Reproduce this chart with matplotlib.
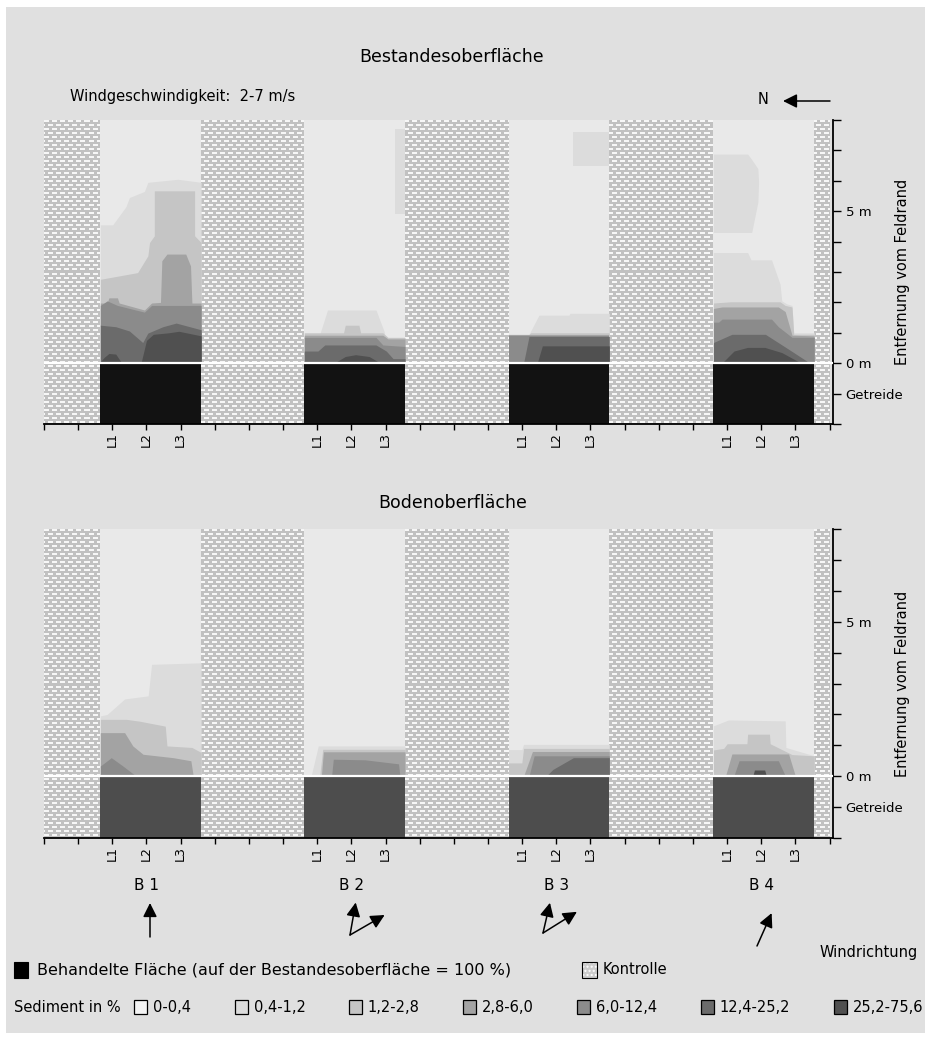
import numpy as np
import matplotlib
matplotlib.use('Agg')
import matplotlib.pyplot as plt
from matplotlib.patches import Rectangle, FancyArrowPatch

plt.rcParams['font.family'] = ['DejaVu Sans']

# sediment classes (legend labels) and their grey shades
levels = ['0-0,4', '0,4-1,2', '1,2-2,8', '2,8-6,0', '6,0-12,4', '12,4-25,2', '25,2-75,6']
level_colors = ['#e9e9e9', '#dcdcdc', '#c5c5c5', '#a3a3a3', '#8b8b8b', '#6b6b6b', '#505050']

block_names = ['B 1', 'B 2', 'B 3', 'B 4']
block_left = [1.65, 7.62, 13.6, 19.6]
block_width = 2.95
x_end = 23.1
ctrl_end = 23.0
l_ticks = [[2, 3, 4], [8, 9, 10], [14, 15, 16], [20, 21, 22]]

# sediment bands per block: (class index, x in block, upper edge in m[, lower edge in m])
top_b1 = [
    (1, [0, 0.36, 0.75, 0.85, 1.29, 1.39, 2.27, 2.95], [4.55, 4.55, 5.15, 5.45, 5.65, 5.95, 6.05, 5.95]),
    (2, [0, 1.09, 1.39, 1.44, 1.58, 1.58, 2.76, 2.76, 2.95], [2.76, 2.98, 3.53, 3.97, 4.19, 5.67, 5.67, 4.19, 3.97]),
    (3, [0, 0.2, 0.25, 0.5, 0.55, 1.29, 1.5, 1.76, 1.8, 1.95, 2.5, 2.64, 2.68, 2.95],
        [1.98, 1.98, 2.15, 2.15, 1.98, 1.75, 1.98, 2.0, 3.37, 3.59, 3.59, 3.2, 1.98, 1.98]),
    (4, [0, 0.2, 0.5, 1.29, 1.5, 2.95], [1.9, 2.05, 1.9, 1.68, 1.9, 1.9]),
    (5, [0, 0.45, 0.85, 1.24, 1.39, 1.83, 2.22, 2.95], [1.25, 1.2, 1.06, 0.68, 0.99, 1.2, 1.32, 1.1]),
    (6, [0, 0.12, 0.25, 0.45, 0.6, 1.2, 1.35, 1.55, 2.0, 2.3, 2.95],
        [0.05, 0.2, 0.32, 0.3, 0.05, 0.05, 0.75, 0.95, 1.0, 1.05, 0.9]),
]
top_b2 = [
    (1, [0.47, 0.68, 2.1, 2.35], [1.01, 1.75, 1.75, 1.01]),
    (1, [2.67, 2.95], [7.7, 7.7], [4.9, 4.9]),
    (2, [0, 1.15, 1.2, 1.6, 1.65, 2.3, 2.45, 2.95], [1.0, 1.0, 1.25, 1.25, 1.0, 1.0, 0.85, 0.85]),
    (3, [0, 2.3, 2.45, 2.95], [0.92, 0.92, 0.8, 0.8]),
    (4, [0, 2.1, 2.3, 2.95], [0.85, 0.85, 0.6, 0.55]),
    (5, [0, 0.4, 0.6, 2.1, 2.4, 2.6, 2.95], [0.4, 0.4, 0.6, 0.6, 0.4, 0.15, 0.15]),
    (6, [0.9, 1.2, 1.5, 1.9, 2.2], [0.02, 0.22, 0.28, 0.22, 0.02]),
]
top_b3 = [
    (1, [0.6, 0.89, 1.77, 1.8, 2.95], [0.95, 1.58, 1.58, 1.64, 1.64]),
    (1, [1.9, 2.95], [7.6, 7.6], [6.5, 6.5]),
    (2, [0, 0.6, 0.65, 2.95], [0.95, 0.95, 1.0, 1.0]),
    (3, [0, 2.95], [0.93, 0.93]),
    (4, [0, 2.95], [0.88, 0.88]),
    (5, [0.44, 0.6, 2.95], [0.0, 0.88, 0.88]),
    (6, [0.84, 0.99, 2.95], [0.0, 0.57, 0.57]),
]
top_b4 = [
    (1, [0, 1.0, 1.12, 1.3, 1.32], [6.88, 6.88, 6.7, 6.4, 6.0], [4.3, 4.3, 4.3, 5.3, 5.9]),
    (1, [0, 1.0, 1.1, 1.7, 1.95, 2.0, 2.15, 2.3, 2.35, 2.95], [3.64, 3.64, 3.4, 3.4, 2.6, 2.05, 1.95, 1.9, 1.0, 1.0]),
    (2, [0, 0.5, 1.95, 2.1, 2.3, 2.35, 2.95], [1.98, 2.02, 2.02, 1.9, 1.85, 0.95, 0.95]),
    (3, [0, 0.25, 1.9, 2.1, 2.3, 2.95], [1.8, 1.85, 1.85, 1.7, 0.92, 0.9]),
    (4, [0, 0.15, 0.25, 1.7, 1.9, 2.3, 2.95], [1.35, 1.35, 1.45, 1.45, 1.2, 0.85, 0.85]),
    (5, [0, 0.54, 1.52, 2.2, 2.8], [0.68, 0.95, 0.95, 0.46, 0.02]),
    (6, [0.29, 0.6, 1.0, 1.5, 2.0, 2.49], [0.05, 0.4, 0.52, 0.52, 0.35, 0.05]),
]
bot_b1 = [
    (1, [0, 0.2, 0.71, 1.4, 1.5, 2.95], [1.95, 2.0, 2.5, 2.6, 3.62, 3.67]),
    (2, [0, 0.76, 1.15, 1.9, 1.95, 2.68, 2.95], [1.84, 1.84, 1.78, 1.62, 0.98, 0.93, 0.77]),
    (3, [0, 0.71, 0.95, 1.25, 2.13, 2.65, 2.72], [1.41, 1.41, 0.98, 0.71, 0.6, 0.5, 0.0]),
    (4, [0, 0.32, 0.66, 1.05], [0.33, 0.6, 0.33, 0.0]),
]
bot_b2 = [
    (1, [0.2, 0.41, 2.95], [0.0, 0.98, 0.98]),
    (2, [0.45, 0.54, 2.95], [0.0, 0.87, 0.87]),
    (3, [0.5, 0.56, 2.95], [0.0, 0.79, 0.79]),
    (4, [0.8, 0.85, 1.78, 2.76, 2.8], [0.0, 0.55, 0.53, 0.4, 0.0]),
]
bot_b3 = [
    (1, [0, 0.39, 0.44, 2.95], [0.86, 0.86, 1.03, 1.03]),
    (2, [0, 0.39, 0.44, 2.95], [0.43, 0.43, 0.9, 0.9]),
    (3, [0.44, 0.7, 2.95], [0.0, 0.8, 0.8]),
    (4, [0.6, 0.75, 2.95], [0.0, 0.66, 0.66]),
    (5, [1.1, 1.3, 1.9, 2.95], [0.0, 0.22, 0.6, 0.6]),
]
bot_b4 = [
    (1, [0, 0.44, 2.1, 2.12, 2.95], [1.63, 1.82, 1.79, 0.93, 0.66]),
    (2, [0, 0.3, 0.4, 0.98, 1.0, 1.64, 1.66, 2.3, 2.95], [0.85, 0.9, 1.05, 1.05, 1.36, 1.36, 1.05, 0.7, 0.66]),
    (3, [0.35, 0.54, 2.2, 2.4], [0.0, 0.72, 0.72, 0.0]),
    (4, [0.6, 0.75, 1.9, 2.1], [0.02, 0.5, 0.5, 0.02]),
    (6, [1.15, 1.2, 1.5, 1.55], [0.0, 0.2, 0.2, 0.0]),
]

# wind directions below each block (degrees clockwise from north, arrow length px)
wind_angles = [[0], [10, 60], [13, 58], [24]]
wind_lengths = [[34], [33, 40], [31, 40], [36]]

W, H = 931, 1039
fx = lambda px: px / W
fy = lambda py: 1 - py / H

fig = plt.figure(figsize=(W / 100, H / 100), dpi=100)
fig.patch.set_facecolor('white')
fig.add_artist(Rectangle((fx(6), fy(1033)), 919 / W, 1026 / H, transform=fig.transFigure,
                         fc='#e0e0e0', ec='none', zorder=-10))


def texture(ny, nx):
    rows, cols = np.mgrid[0:ny, 0:nx]
    img = np.full((ny, nx, 3), 0.76)
    off = np.where((rows // 4) % 2 == 0, 0, 4)
    dash = (rows % 4 >= 1) & (rows % 4 <= 2) & (((cols + off) % 8) < 5)
    img[dash] = 0.97
    return img


def draw_panel(ax, blocks, treated_color):
    bb = ax.get_window_extent()
    tex = texture(int(round(bb.height)), int(round(bb.width)))
    edges = [0]
    for b in block_left:
        edges += [b, b + block_width]
    edges.append(ctrl_end)
    for a, b in zip(edges[0::2], edges[1::2]):
        im = ax.imshow(tex, extent=(0, x_end, -2, 8), aspect='auto',
                       interpolation='nearest', zorder=1)
        r = Rectangle((a, -2), b - a, 10, fc='none', ec='none')
        ax.add_patch(r)
        im.set_clip_path(r)
    for left, bands in zip(block_left, blocks):
        ax.add_patch(Rectangle((left, 0), block_width, 8, fc=level_colors[0], ec='none', zorder=2))
        ax.add_patch(Rectangle((left, -2), block_width, 2, fc=treated_color, ec='none', zorder=2))
        for band in bands:
            lvl, xs, up = band[0], band[1], band[2]
            lo = band[3] if len(band) > 3 else 0
            ax.fill_between(left + np.array(xs), lo, up, color=level_colors[lvl],
                            lw=0, zorder=3)
    ax.axhline(0, color='white', lw=1.6, zorder=5)
    ax.set_xlim(0, x_end)
    ax.set_ylim(-2, 8)
    ax.set_facecolor('#e0e0e0')
    for s in ['left', 'top']:
        ax.spines[s].set_visible(False)
    for s in ['bottom', 'right']:
        ax.spines[s].set_linewidth(1.3)
    ax.set_xticks(range(24))
    labels = [''] * 24
    for group in l_ticks:
        for i, t in enumerate(group):
            labels[t] = 'L%d' % (i + 1)
    ax.set_xticklabels(labels, rotation=90, fontsize=9)
    ax.yaxis.tick_right()
    ax.set_yticks(range(-2, 9))
    ylab = {5: '5 m', 0: '0 m', -1: 'Getreide'}
    ax.set_yticklabels([ylab.get(v, '') for v in range(-2, 9)], fontsize=9.5)
    ax.tick_params(axis='x', length=4, width=1, pad=2)
    ax.tick_params(axis='y', length=6, width=1, pad=3)
    ax.text((903 - 44) / 789, 0.5, 'Entfernung vom Feldrand', rotation=90,
            ha='center', va='center', fontsize=10.5, transform=ax.transAxes)


ax1 = fig.add_axes([fx(44), fy(424), 789 / W, 304 / H])
ax2 = fig.add_axes([fx(44), fy(838), 789 / W, 309 / H])
draw_panel(ax1, [top_b1, top_b2, top_b3, top_b4], '#121212')
draw_panel(ax2, [bot_b1, bot_b2, bot_b3, bot_b4], '#4d4d4d')

fig.text(fx(452), fy(57), 'Bestandesoberfläche', ha='center', va='center', fontsize=12.5)
fig.text(fx(453), fy(503), 'Bodenoberfläche', ha='center', va='center', fontsize=12.5)
fig.text(fx(70), fy(97), 'Windgeschwindigkeit:  2-7 m/s', ha='left', va='center', fontsize=10.5)
fig.text(fx(763), fy(100), 'N', ha='center', va='center', fontsize=10.5)


def arrow(x0, y0, x1, y1):
    fig.add_artist(FancyArrowPatch((fx(x0), fy(y0)), (fx(x1), fy(y1)), transform=fig.transFigure,
                                   arrowstyle='-|>,head_length=0.6,head_width=0.3',
                                   mutation_scale=14, color='black', lw=1.1,
                                   shrinkA=0, shrinkB=0))


arrow(830, 101, 783, 101)

label_x = [3, 9, 15, 21]
origins = [(150, 937), (350, 935), (543, 933), (757, 946)]
for name, lx, org, angs, lens in zip(block_names, label_x, origins, wind_angles, wind_lengths):
    px = ax2.transData.transform((lx, 0))[0]
    fig.text(fx(px), fy(886), name, ha='center', va='center', fontsize=11)
    for a, L in zip(angs, lens):
        t = np.radians(a)
        arrow(org[0], org[1], org[0] + L * np.sin(t), org[1] - L * np.cos(t))

fig.text(fx(918), fy(952), 'Windrichtung', ha='right', va='center', fontsize=10.5)

# legend row 1
fig.add_artist(Rectangle((fx(14), fy(978)), 14 / W, 16 / H, transform=fig.transFigure,
                         fc='black', ec='black', lw=0.8))
fig.text(fx(37), fy(970), 'Behandelte Fläche (auf der Bestandesoberfläche = 100 %)',
         ha='left', va='center', fontsize=11.5)
fig.add_artist(Rectangle((fx(582), fy(978)), 15 / W, 16 / H, transform=fig.transFigure,
                         fc='#cdcdcd', ec='white', hatch='....', lw=0))
fig.add_artist(Rectangle((fx(582), fy(978)), 15 / W, 16 / H, transform=fig.transFigure,
                         fc='none', ec='black', lw=0.8))
fig.text(fx(603), fy(970), 'Kontrolle', ha='left', va='center', fontsize=10.5)

# legend row 2, spread between x=14 and x=925
renderer = fig.canvas.get_renderer()
head = fig.text(fx(14), fy(1007), 'Sediment in %', ha='left', va='center', fontsize=10.5)
texts = [fig.text(0, fy(1007), lab, ha='left', va='center', fontsize=10.5) for lab in levels]
wid = [t.get_window_extent(renderer).width for t in texts]
head_w = head.get_window_extent(renderer).width
sq, sgap = 13, 6
gap = (925 - 14 - head_w - sum(wid) - len(levels) * (sq + sgap)) / len(levels)
x = 14 + head_w + gap * 0.35
for i, (t, w) in enumerate(zip(texts, wid)):
    fig.add_artist(Rectangle((fx(x), fy(1014)), sq / W, 14 / H, transform=fig.transFigure,
                             fc=level_colors[i] if i else '#f4f4f4', ec='black', lw=0.9))
    t.set_x(fx(x + sq + sgap))
    x += sq + sgap + w + gap * (1.1 if i < len(levels) - 1 else 0)

fig.savefig('out.png', dpi=100, facecolor='white')
